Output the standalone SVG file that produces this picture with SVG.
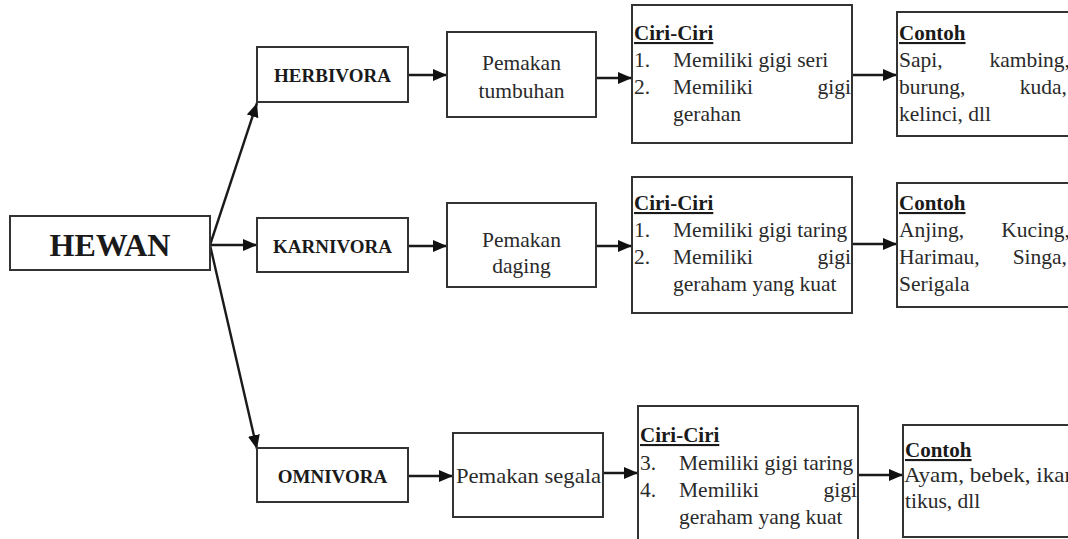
<svg xmlns="http://www.w3.org/2000/svg" width="1068" height="539" viewBox="0 0 1068 539">
<style>
.box{fill:#fff;stroke:#333;stroke-width:2}
.lbl{font-family:"Liberation Serif",serif;font-weight:bold;fill:#1a1a1a}
.t{font-family:"Liberation Serif",serif;font-size:21.5px;fill:#2a2a2a}
.h{font-family:"Liberation Serif",serif;font-size:21px;font-weight:bold;fill:#1a1a1a;text-decoration:underline}
.c{text-anchor:middle}
.e{text-anchor:end}
.ln{stroke:#1a1a1a;stroke-width:2.4;fill:none;marker-end:url(#ah)}
</style>
<defs>
<marker id="ah" viewBox="0 0 14 12" refX="14" refY="6" markerWidth="14" markerHeight="12" markerUnits="userSpaceOnUse" orient="auto">
<path d="M0,0 L14,6 L0,12 Z" fill="#111"/>
</marker>
</defs>
<rect width="1068" height="539" fill="#fff"/>
<g id="connectors">
<line class="ln" x1="210" y1="245" x2="257" y2="245"/>
<line class="ln" x1="210" y1="245" x2="257" y2="103"/>
<line class="ln" x1="210" y1="245" x2="257" y2="449"/>
<line class="ln" x1="408" y1="75" x2="447" y2="75"/>
<line class="ln" x1="596" y1="78" x2="632" y2="78"/>
<line class="ln" x1="852" y1="75" x2="897" y2="75"/>
<line class="ln" x1="408" y1="246" x2="447" y2="246"/>
<line class="ln" x1="596" y1="246" x2="632" y2="246"/>
<line class="ln" x1="852" y1="244" x2="897" y2="244"/>
<line class="ln" x1="408" y1="476" x2="453" y2="476"/>
<line class="ln" x1="603" y1="473" x2="638" y2="473"/>
<line class="ln" x1="858" y1="475" x2="903" y2="475"/>
</g>
<g id="hewan">
<rect class="box" x="10" y="216" width="200" height="54"/>
<text class="lbl c" x="110" y="256" font-size="32">HEWAN</text>
</g>
<g id="herbivora">
<rect class="box" x="257" y="47" width="151" height="55"/>
<text class="lbl c" x="332.5" y="82" font-size="19">HERBIVORA</text>
</g>
<g id="karnivora">
<rect class="box" x="257" y="218" width="151" height="54"/>
<text class="lbl c" x="332.5" y="253" font-size="19">KARNIVORA</text>
</g>
<g id="omnivora">
<rect class="box" x="257" y="448" width="151" height="54"/>
<text class="lbl c" x="332.5" y="483" font-size="19">OMNIVORA</text>
</g>
<g id="pemakan-tumbuhan">
<rect class="box" x="447" y="32" width="149" height="85"/>
<text class="t c" x="521.5" y="70">Pemakan</text>
<text class="t c" x="521.5" y="98">tumbuhan</text>
</g>
<g id="pemakan-daging">
<rect class="box" x="447" y="203" width="149" height="84"/>
<text class="t c" x="521.5" y="247">Pemakan</text>
<text class="t c" x="521.5" y="273">daging</text>
</g>
<g id="pemakan-segala">
<rect class="box" x="453" y="433" width="150" height="84"/>
<text class="t" x="456" y="483" textLength="145" lengthAdjust="spacingAndGlyphs">Pemakan segala</text>
</g>
<g id="ciri-herbivora">
<rect class="box" x="632" y="5" width="220" height="138"/>
<text class="h" x="634" y="40">Ciri-Ciri</text>
<text class="t" x="634" y="67">1.</text>
<text class="t" x="673" y="67">Memiliki gigi seri</text>
<text class="t" x="634" y="94">2.</text>
<text class="t" x="673" y="94">Memiliki</text>
<text class="t e" x="851" y="94">gigi</text>
<text class="t" x="673" y="121">gerahan</text>
</g>
<g id="ciri-karnivora">
<rect class="box" x="632" y="177" width="220" height="136"/>
<text class="h" x="634" y="210">Ciri-Ciri</text>
<text class="t" x="634" y="237">1.</text>
<text class="t" x="673" y="237">Memiliki gigi taring</text>
<text class="t" x="634" y="264">2.</text>
<text class="t" x="673" y="264">Memiliki</text>
<text class="t e" x="851" y="264">gigi</text>
<text class="t" x="673" y="291">geraham yang kuat</text>
</g>
<g id="ciri-omnivora">
<rect class="box" x="638" y="406" width="220" height="140"/>
<text class="h" x="640" y="442">Ciri-Ciri</text>
<text class="t" x="640" y="470">3.</text>
<text class="t" x="679" y="470">Memiliki gigi taring</text>
<text class="t" x="640" y="497">4.</text>
<text class="t" x="679" y="497">Memiliki</text>
<text class="t e" x="857" y="497">gigi</text>
<text class="t" x="679" y="524">geraham yang kuat</text>
</g>
<g id="contoh-herbivora">
<rect class="box" x="897" y="12" width="180" height="124"/>
<text class="h" x="899" y="40">Contoh</text>
<text class="t" x="899" y="67">Sapi,</text>
<text class="t e" x="1070" y="67">kambing,</text>
<text class="t" x="899" y="94">burung,</text>
<text class="t e" x="1067" y="94">kuda,</text>
<text class="t" x="899" y="121">kelinci, dll</text>
</g>
<g id="contoh-karnivora">
<rect class="box" x="897" y="183" width="180" height="124"/>
<text class="h" x="899" y="210">Contoh</text>
<text class="t" x="899" y="237">Anjing,</text>
<text class="t e" x="1070" y="237">Kucing,</text>
<text class="t" x="899" y="264">Harimau,</text>
<text class="t e" x="1067" y="264">Singa,</text>
<text class="t" x="899" y="291">Serigala</text>
</g>
<g id="contoh-omnivora">
<rect class="box" x="903" y="425" width="180" height="112"/>
<text class="h" x="905" y="457">Contoh</text>
<text class="t" x="904" y="482" textLength="172" lengthAdjust="spacingAndGlyphs">Ayam, bebek, ikan</text>
<text class="t" x="905" y="508">tikus, dll</text>
</g>
</svg>
